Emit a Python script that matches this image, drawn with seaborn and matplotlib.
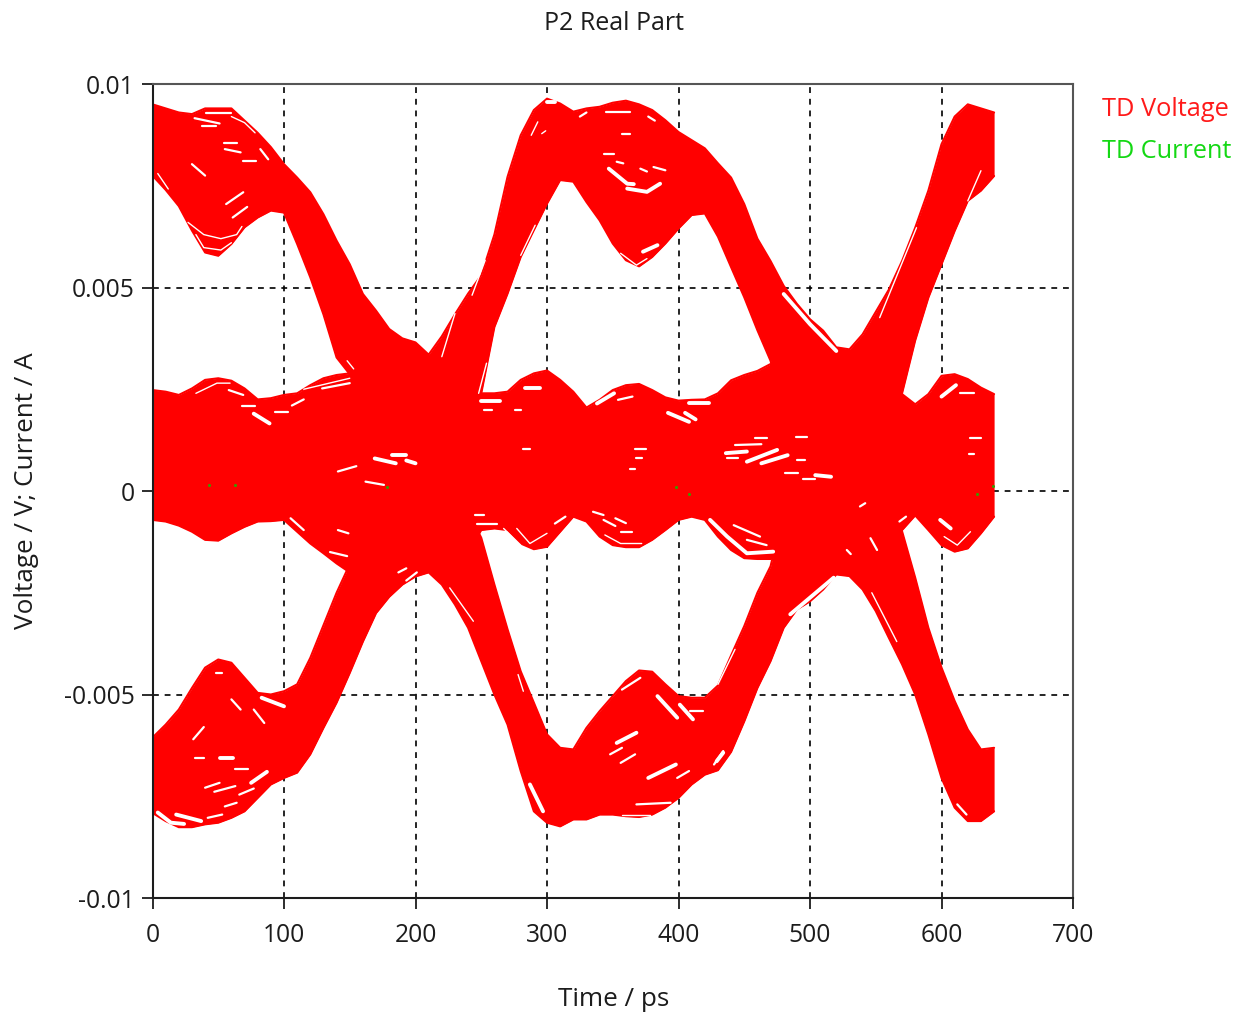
import numpy as np
import pandas as pd
import seaborn as sns
import matplotlib.pyplot as plt

sns.set_style("white")
plt.rcParams["font.family"] = ["Open Sans", "DejaVu Sans"]

# time axis of the envelopes, ps
time_ps = list(range(0, 650, 10))

# eye diagram outline (V)
top_upper = [.0095, .0094, .0093, .00926, .0094, .0094, .0094, .0091, .0088, .00845, .00803,
             .0077, .00734, .0068, .00615, .00557, .00484, .00443, .00398, .00375, .00365,
             .00335, .0038, .00434, .00485, .0053, .0063, .00772, .00874, .00936, .00964,
             .00952, .00932, .0094, .00944, .00954, .00959, .0095, .00936, .00911, .00882,
             .00862, .00842, .00805, .0077, .00705, .0062, .00565, .00504, .0046, .00422,
             .00394, .00353, .00348, .00385, .0044, .00495, .00565, .00647, .00738, .00852,
             .0092, .0095, .0094, .0093]
top_lower = [.00775, .0074, .0070, .0064, .00586, .00578, .00607, .00648, .00672, .00689, .00684,
             .00607, .00525, .00434, .00328, .00287, .002, .002, .002, .002, .002,
             .002, .002, .002, .002, .0024, .00403, .00485, .00575, .00641, .00706,
             .00764, .0076, .0071, .00665, .00608, .00567, .00552, .00575, .00608, .00645,
             .00678, .00682, .00625, .0055, .00476, .00395, .0032, .002, .002, .002,
             .002, .002, .002, .002, .002, .002, .0024, .0037, .00475, .00557,
             .00639, .00713, .00738, .00774]
mid_upper = [.00248, .00244, .00236, .00252, .00273, .00277, .00271, .00252, .00225, .00228, .00236,
             .0024, .0026, .00277, .00285, .00289, .003, .003, .003, .003, .003,
             .003, .003, .003, .003, .0024, .0024, .00244, .00273, .00289, .00296,
             .00273, .00244, .00205, .00224, .00248, .0026, .00263, .00248, .0023, .00222,
             .00224, .00225, .0024, .00272, .00285, .00295, .00312, .003, .003, .003,
             .003, .003, .003, .003, .003, .003, .00238, .00213, .00238, .00283,
             .00287, .00275, .00254, .00238]
mid_lower = [-.00071, -.00075, -.00085, -.001, -.0012, -.00122, -.00104, -.00088, -.00075, -.00074, -.00071,
             -.001, -.00129, -.00153, -.00178, -.002, -.0015, -.0015, -.0015, -.0015, -.0015,
             -.0015, -.0015, -.0015, -.0015, -.00096, -.00092, -.00096, -.00129, -.00143, -.00137,
             -.001, -.00063, -.00075, -.00112, -.00133, -.00138, -.00138, -.0012, -.00096, -.00071,
             -.00063, -.00071, -.00112, -.00145, -.00165, -.00167, -.00167, -.0015, -.0015, -.0015,
             -.0015, -.0015, -.0015, -.0015, -.0015, -.0015, -.00096, -.0006, -.00096, -.00133,
             -.00149, -.00141, -.00104, -.00063]
bot_upper = [-.00606, -.00574, -.00537, -.00484, -.00434, -.00414, -.00422, -.00459, -.00496, -.005, -.00492,
             -.00475, -.0041, -.0033, -.0025, -.0018, -.0005, -.0005, -.0005, -.0005, -.0005,
             -.0005, -.0005, -.0005, -.0005, -.00115, -.0023, -.0034, -.00443, -.0052, -.00598,
             -.00631, -.00635, -.00582, -.00541, -.00504, -.00467, -.00441, -.00444, -.00475, -.00504,
             -.00508, -.00508, -.00478, -.00404, -.00332, -.0025, -.00185, -.0005, -.0005, -.0005,
             -.0005, -.0005, -.0005, -.0005, -.0005, -.0005, -.00099, -.00213, -.00336, -.00434,
             -.00516, -.00586, -.00635, -.00631]
bot_lower = [-.00791, -.00811, -.00826, -.00826, -.00819, -.00815, -.00803, -.00787, -.00754, -.00721, -.00705,
             -.00692, -.00647, -.00582, -.0052, -.00447, -.0037, -.003, -.0026, -.0023, -.0021,
             -.002, -.0023, -.00279, -.00336, -.00418, -.005, -.00574, -.00688, -.00787, -.00815,
             -.00824, -.00807, -.00807, -.00795, -.00795, -.00799, -.00801, -.00795, -.00778, -.00754,
             -.00721, -.00697, -.00686, -.00641, -.00566, -.00484, -.00418, -.00336, -.00291, -.00271,
             -.00242, -.00205, -.00209, -.00242, -.00295, -.00361, -.00426, -.005, -.00598, -.00705,
             -.00778, -.00811, -.00811, -.00787]

# gaps between the traces, thin ones
fine_t = [[60, 70, 78], [4, 12], [27, 39, 52, 64, 68], [33, 39, 52, 60], [33, 49, 59], [115, 150],
          [248, 254], [148, 153], [267, 280], [277, 287, 300],
          [288, 293], [296, 299], [280, 291], [243, 253], [220, 230], [356, 368, 376],
          [430, 443], [226, 244], [278, 282], [357, 378], [553, 581], [620, 630], [602, 612, 622],
          [547, 566], [344, 356, 372]]
fine_v = [[.0092, .00905, .0088], [.0078, .00742], [.0066, .0063, .0062, .0063, .0065], [.0063, .00598, .00592, .0061],
          [.0024, .00265, .00265], [.0025, .00277], [.0024, .00314], [.0032, .003], [-.00092, -.00133],
          [-.00092, -.00129, -.00104],
          [.00874, .00907], [.00878, .00885], [.00579, .00653], [.00481, .00567], [.0033, .00436],
          [.00584, .00555, .00571], [-.00475, -.00389], [-.00238, -.0032], [-.00451, -.00492], [-.00795, -.00795],
          [.00426, .00647], [.00713, .00787], [-.00112, -.00133, -.001], [-.0025, -.0037], [-.00108, -.00129, -.00129]]

# short lens shaped ones
mid_t = [[41, 60], [32, 51], [38, 48], [54, 64], [55, 67], [69, 79], [82, 88], [30, 40], [56, 69], [61, 72],
         [58, 69], [68, 78], [93, 103], [106, 115], [129, 150], [141, 155], [162, 176], [141, 149], [135, 148],
         [105, 115], [252, 258], [276, 280], [282, 287], [245, 252], [247, 262], [306, 314], [187, 193], [193, 201],
         [42, 53], [55, 64], [66, 77], [40, 51], [47, 63], [32, 39], [31, 39], [77, 85], [60, 67], [63, 73], [48, 53],
         [343, 351], [381, 390], [357, 363], [377, 382], [345, 363], [325, 330], [371, 376], [353, 358],
         [348, 357], [356, 367], [399, 408], [409, 419], [427, 434], [368, 394], [357, 371],
         [335, 343], [343, 352], [352, 360], [356, 365], [354, 365], [437, 445], [443, 463], [458, 467],
         [489, 498], [495, 504], [481, 491], [490, 496], [367, 375], [368, 372], [363, 367],
         [614, 625], [622, 630], [621, 625], [568, 573], [538, 542], [528, 531], [546, 551], [612, 619], [442, 462], [452, 467]]
mid_v = [[.00928, .00928], [.00916, .00903], [.00897, .00897], [.00855, .00855], [.0084, .00832], [.00811, .00811],
         [.0084, .00815], [.00803, .00775], [.00705, .00734], [.00672, .00698],
         [.00248, .00236], [.0021, .0021], [.00195, .00195], [.0021, .00225], [.00252, .00265], [.00048, .00061],
         [.00023, .00015], [-.00096, -.00104], [-.0015, -.0016], [-.00067, -.00096],
         [.002, .002], [.002, .002], [.00103, .00103], [-.0006, -.0006], [-.0008, -.0008], [-.0008, -.00063],
         [-.002, -.0019], [-.0022, -.002],
         [-.00803, -.00795], [-.00775, -.00766], [-.00746, -.00731], [-.00729, -.00717], [-.00739, -.00725],
         [-.00657, -.00657], [-.0061, -.0058], [-.00537, -.0057], [-.00512, -.00537], [-.00684, -.00684], [-.00447, -.00447],
         [.00828, .00828], [.00796, .00788], [.00878, .00878], [.0092, .0091], [.00932, .00932], [.0092, .0093],
         [.00792, .00785], [.00809, .00805],
         [-.00647, -.00631], [-.00668, -.00647], [-.00705, -.00688], [-.00541, -.00541], [-.00672, -.00639],
         [-.0077, -.00766], [-.00488, -.00459],
         [-.00051, -.00059], [-.00071, -.00086], [-.00067, -.00079], [-.001, -.001], [.00224, .00232],
         [.0008, .0008], [.00113, .00115], [.00129, .00129], [.00132, .00132], [.00029, .00029], [.00043, .00043],
         [.00077, .00077], [.00103, .00103], [.0008, .0008], [.00053, .00053],
         [.0024, .0024], [.00129, .00129], [.0009, .0009], [-.00075, -.00063], [-.00038, -.0003], [-.00145, -.00155],
         [-.00116, -.00145], [-.0077, -.00795], [-.00084, -.00112], [-.0012, -.00133]]

# the biggest holes
wide_t = [[77, 89], [169, 185], [182, 193], [193, 200], [283, 295], [4, 14, 24], [18, 37], [75, 87], [51, 61], [83, 100],
          [250, 264], [347, 361, 366], [361, 376, 386], [373, 384], [300, 306], [353, 368], [377, 398],
          [384, 399], [401, 411], [287, 297], [424, 437, 452, 472], [392, 408], [405, 413], [408, 423],
          [338, 351], [436, 452], [452, 475], [463, 483], [504, 516], [600, 611], [599, 607],
          [480, 500, 520], [485, 518], [429, 434]]
wide_v = [[.0019, .00166], [.0008, .00068], [.00088, .00088], [.00075, .00068], [.00252, .00252],
          [-.0079, -.00815, -.00818], [-.00795, -.00811], [-.00717, -.0069], [-.00657, -.00657], [-.00508, -.00529],
          [.0022, .0022], [.00792, .00755, .00754], [.00743, .00735, .00755], [.00588, .00604], [.00955, .00955],
          [-.00619, -.00594], [-.00705, -.00672], [-.00504, -.00557], [-.00525, -.00561], [-.00721, -.00787],
          [-.00071, -.00112, -.00153, -.00149], [.00192, .0017], [.00192, .00176], [.00215, .00215],
          [.00215, .0024], [.00093, .00097], [.00072, .00101], [.00068, .00088], [.00039, .00035], [.00232, .0026],
          [-.00071, -.00092], [.00484, .0041, .00344], [-.00303, -.00213], [-.00664, -.00643]]

# the few current samples that show through
current_t = [43, 63, 178, 398, 408, 627, 639]
current_v = [.00015, .00015, .0001, .0001, -.00007, -.00007, .00012]

x_ticks = [0, 100, 200, 300, 400, 500, 600, 700]
y_ticks = [-.01, -.005, 0, .005, .01]
y_tick_labels = ["-0.01", "-0.005", "0", "0.005", "0.01"]

RED = "#ff0000"
DARK = "#1c1c1c"


def gap_frame(t_rows, v_rows):
    return pd.DataFrame({
        "time": [t for row in t_rows for t in row],
        "volt": [v for row in v_rows for v in row],
        "gap": [i for i, row in enumerate(t_rows) for _ in row],
    })


edges = pd.DataFrame({
    "time": time_ps * 6,
    "volt": top_upper + top_lower + mid_upper + mid_lower + bot_upper + bot_lower,
    "edge": np.repeat(np.arange(6), len(time_ps)),
})

fig = plt.figure(figsize=(12.36, 10.13), dpi=100)
ax = fig.add_axes([152.5 / 1236, 1 - 898 / 1013, 920.5 / 1236, 814 / 1013])

ax.set_axisbelow(True)
ax.grid(True, color="black", linestyle=(0, (3.5, 3.5)), linewidth=1.2)

# traces as filled bands with the outline on top
ax.fill_between(time_ps, top_lower, top_upper, color=RED, linewidth=0)
ax.fill_between(time_ps, mid_lower, mid_upper, color=RED, linewidth=0)
ax.fill_between(time_ps, bot_lower, bot_upper, color=RED, linewidth=0)
sns.lineplot(data=edges, x="time", y="volt", units="edge", estimator=None,
             color=RED, linewidth=1.5, ax=ax, legend=False)

for rows_t, rows_v, width in [(fine_t, fine_v, 1.0), (mid_t, mid_v, 1.6), (wide_t, wide_v, 2.8)]:
    sns.lineplot(data=gap_frame(rows_t, rows_v), x="time", y="volt", units="gap", estimator=None,
                 color="white", linewidth=width, ax=ax, legend=False)
sns.scatterplot(x=current_t, y=current_v, color="#3c9a00", s=5, linewidth=0, ax=ax, legend=False)

ax.set_xlim(0, 700)
ax.set_ylim(-.01, .01)
ax.set_xticks(x_ticks)
ax.set_yticks(y_ticks)
ax.set_yticklabels(y_tick_labels)
ax.tick_params(axis="x", labelsize=17.7, length=8, width=1.3, color=DARK, labelcolor=DARK, pad=10, bottom=True)
ax.tick_params(axis="y", labelsize=17.7, length=8, width=1.3, color=DARK, labelcolor=DARK, pad=5, left=True)
for side in ["top", "right"]:
    ax.spines[side].set_color("#555555")
    ax.spines[side].set_linewidth(1.5)
for side in ["left", "bottom"]:
    ax.spines[side].set_color(DARK)
    ax.spines[side].set_linewidth(1.5)
ax.set_xlabel("")
ax.set_ylabel("")

fig.text(614 / 1236, 1 - 23 / 1013, "P2 Real Part", fontsize=18, color=DARK, ha="center", va="center")
fig.text(614 / 1236, 1 - 999 / 1013, "Time / ps", fontsize=18.8, color=DARK, ha="center", va="center")
fig.text(27 / 1236, 1 - 491 / 1013, "Voltage / V; Current / A", fontsize=18.8, color=DARK,
         ha="center", va="center", rotation=90)
fig.text(1102 / 1236, 1 - 110 / 1013, "TD Voltage", fontsize=18.3, color="#ff1a1a", ha="left", va="center")
fig.text(1102 / 1236, 1 - 151 / 1013, "TD Current", fontsize=18.2, color="#14d814", ha="left", va="center")

fig.savefig("out.png", dpi=100)
